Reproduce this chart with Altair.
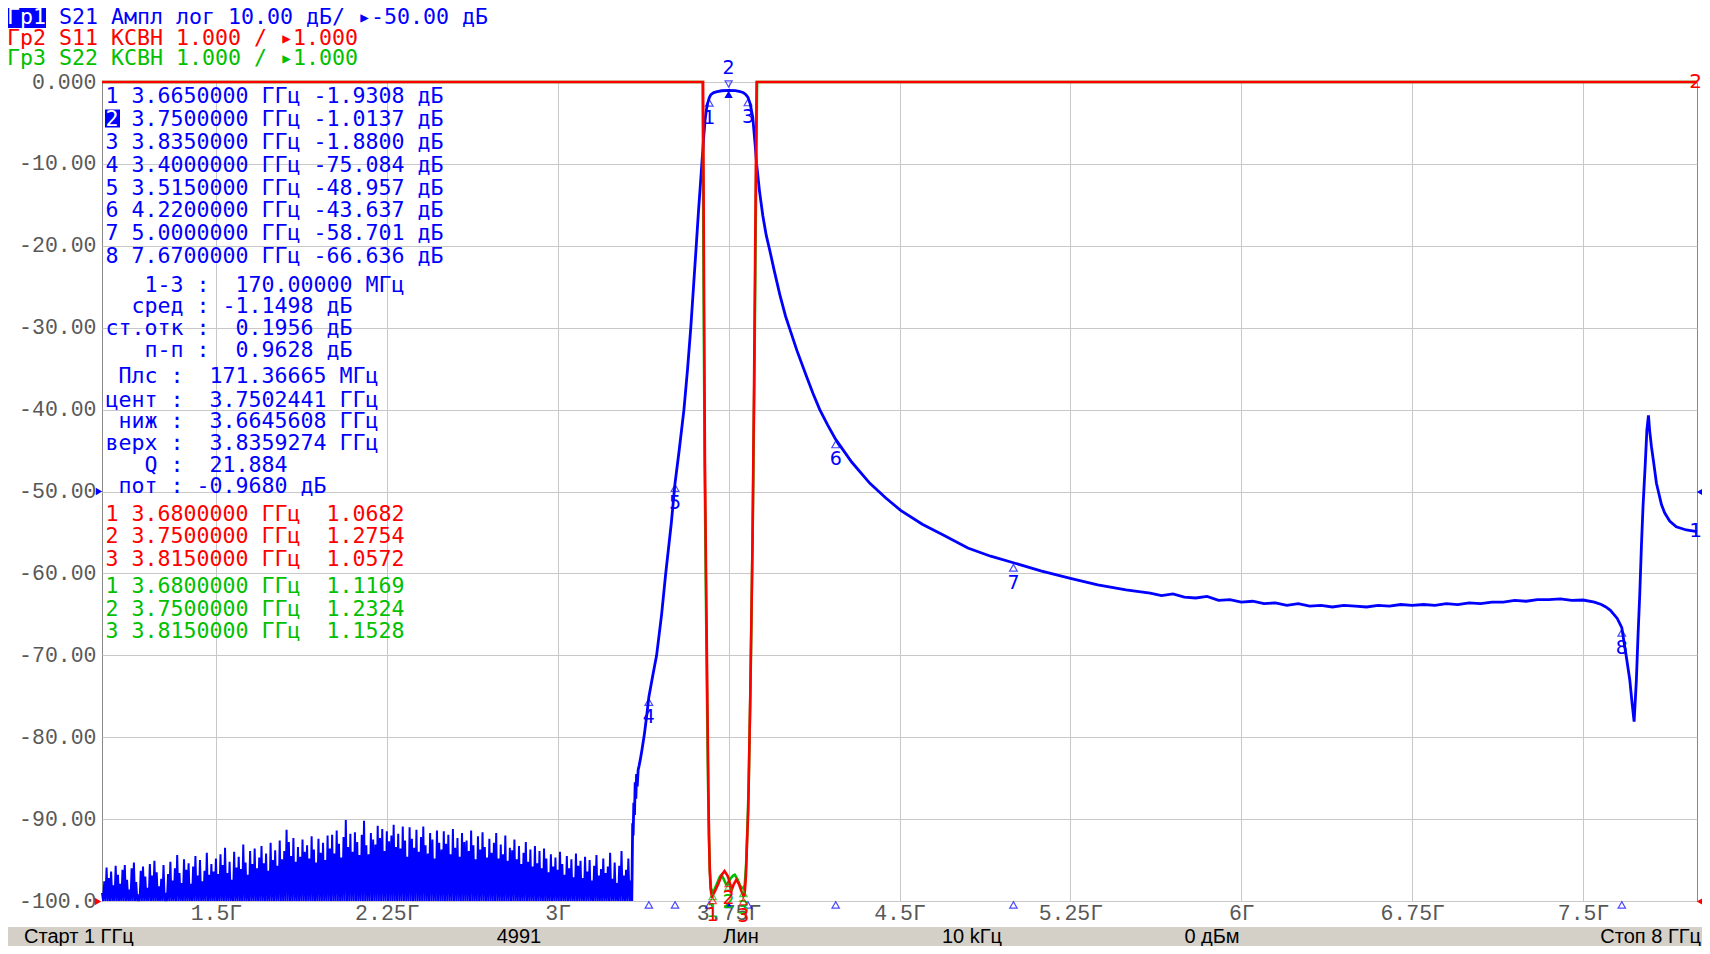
import altair as alt
import pandas as pd

# ---------------------------------------------------------------- data
F_START_GHZ = 1.0
F_STOP_GHZ = 8.0
DB_BOTTOM, DB_TOP = -100.0, 0.0
VSWR_BOTTOM, VSWR_TOP = 1.0, 11.0

X_TICKS_GHZ = [1.5, 2.25, 3.0, 3.75, 4.5, 5.25, 6.0, 6.75, 7.5]
Y_TICKS_DB = [0, -10, -20, -30, -40, -50, -60, -70, -80, -90, -100]

# S21 noise floor: spike peaks read every 10 MHz from 1.00 to 3.32 GHz
NOISE_START_GHZ = 1.0
NOISE_STEP_GHZ = 0.01
S21_NOISE_PEAKS_DB = [
    -99.0, -97.6, -95.9, -97.2, -96.4, -98.1, -95.7, -96.8, -97.9, -96.2,
    -95.6, -97.4, -98.6, -96.0, -95.3, -97.7, -99.2, -96.3, -95.8, -97.0,
    -98.4, -95.5, -96.9, -95.1, -96.5, -98.2, -97.3, -95.6, -99.0, -96.7,
    -95.2, -97.5, -96.0, -94.4, -96.6, -97.8, -94.9, -96.2, -95.4, -97.9,
    -95.8, -94.5, -96.9, -95.0, -97.6, -96.3, -94.1, -96.8, -95.5, -96.4,
    -94.8, -96.7, -94.3, -95.6, -93.5, -96.6, -95.2, -97.4, -94.0, -95.9,
    -94.6, -96.1, -93.1, -95.3, -96.8, -93.9, -95.5, -93.6, -96.0, -94.7,
    -93.3, -95.4, -94.2, -96.3, -92.9, -95.0, -93.8, -95.7, -92.6, -94.9,
    -93.9, -91.3, -92.8, -94.5, -92.3, -95.2, -93.4, -94.6, -92.5, -94.0,
    -93.2, -94.8, -92.1, -93.7, -95.3, -92.4, -94.1, -92.9, -95.0, -92.0,
    -93.6, -91.9, -94.2, -91.4, -93.0, -94.7, -92.2, -90.1, -93.4, -91.8,
    -94.0, -91.6, -92.8, -94.4, -91.9, -90.2, -93.2, -94.3, -91.7, -92.5,
    -93.1, -90.8, -92.3, -91.2, -93.9, -91.5, -92.7, -92.0, -90.7, -93.4,
    -91.8, -93.6, -90.9, -92.6, -94.6, -91.0, -92.4, -93.5, -91.3, -94.0,
    -92.2, -90.9, -93.2, -94.2, -91.7, -92.5, -94.8, -91.4, -92.9, -93.7,
    -91.5, -93.0, -91.9, -94.3, -91.2, -93.5, -92.3, -94.6, -91.7, -92.8,
    -92.6, -93.9, -91.4, -93.2, -94.9, -92.1, -93.7, -91.6, -93.4, -94.7,
    -92.4, -94.1, -92.9, -91.7, -94.8, -93.1, -94.3, -92.0, -95.1, -93.5,
    -93.8, -92.5, -94.9, -93.3, -95.5, -94.1, -92.8, -95.2, -93.7, -95.8,
    -93.3, -95.4, -93.9, -96.0, -93.6, -94.8, -96.5, -94.3, -95.8, -94.7,
    -96.2, -94.0, -95.5, -96.8, -94.5, -96.0, -94.9, -97.1, -94.2, -95.7,
    -95.1, -97.2, -94.6, -96.4, -95.0, -97.5, -95.7, -94.4, -96.9, -96.1,
    -94.8, -96.6, -95.8, -94.1, -97.3, -95.3, -97.8, -95.7, -93.9, -96.9,
    -96.2, -94.8, -97.5,
]
DISPLAY_FLOOR_DB = -100.0

# S21 skirts, passband and stopband
S21_FREQ_GHZ = [
    3.325, 3.327, 3.329, 3.331, 3.334, 3.337, 3.340, 3.343, 3.346, 3.349,
    3.353, 3.357, 3.362, 3.370, 3.381, 3.390, 3.400, 3.417, 3.434, 3.456,
    3.474, 3.498, 3.515, 3.533, 3.554, 3.570, 3.584, 3.596, 3.607, 3.618,
    3.628, 3.635, 3.641, 3.647, 3.653, 3.659, 3.665, 3.672, 3.685, 3.700,
    3.720, 3.750, 3.780, 3.800, 3.815, 3.826, 3.835, 3.845, 3.856, 3.866,
    3.873, 3.885, 3.900, 3.915, 3.931, 3.950, 3.975, 4.000, 4.019, 4.050,
    4.090, 4.120, 4.150, 4.185, 4.220, 4.290, 4.370, 4.440, 4.505, 4.600,
    4.692, 4.800, 4.900, 5.000, 5.120, 5.250, 5.370, 5.494,
    5.60, 5.65, 5.70, 5.75, 5.80, 5.85, 5.90, 5.95, 6.00, 6.05,
    6.10, 6.15, 6.20, 6.25, 6.30, 6.35, 6.40, 6.45, 6.50, 6.55,
    6.60, 6.65, 6.70, 6.75, 6.80, 6.85, 6.90, 6.95, 7.00, 7.05,
    7.10, 7.15, 7.20, 7.25, 7.30, 7.35, 7.40, 7.45, 7.50, 7.55,
    7.58, 7.60, 7.62, 7.65, 7.67, 7.69, 7.705, 7.715, 7.724, 7.734,
    7.741, 7.749, 7.756, 7.763, 7.773, 7.780, 7.787, 7.792, 7.800, 7.810,
    7.822, 7.844, 7.858, 7.880, 7.909, 7.953, 8.000,
]
S21_DB = [
    -100.0, -95.5, -90.5, -92.0, -88.0, -89.5, -85.5, -87.5, -84.5, -86.0,
    -84.0, -83.5, -82.8, -81.5, -79.5, -77.5, -75.084, -72.5, -70.0, -65.0,
    -60.0, -54.0, -48.957, -45.0, -40.0, -35.0, -30.0, -25.0, -20.4, -15.7,
    -11.8, -9.0, -6.6, -4.6, -3.3, -2.5, -1.9308, -1.55, -1.30, -1.18,
    -1.07, -1.0137, -1.06, -1.16, -1.30, -1.55, -1.88, -2.7, -4.3, -7.5,
    -10.0, -13.2, -16.3, -18.7, -20.6, -23.0, -26.0, -28.6, -30.2, -32.8,
    -35.8, -38.0, -40.0, -41.9, -43.637, -46.4, -49.0, -50.8, -52.3, -54.0,
    -55.3, -56.9, -57.9, -58.701, -59.7, -60.6, -61.4, -62.0,
    -62.4, -62.7, -62.5, -62.9, -63.0, -62.8, -63.3, -63.2, -63.5, -63.4,
    -63.7, -63.6, -63.9, -63.7, -64.0, -63.9, -64.1, -63.9, -64.0, -64.1,
    -63.9, -64.0, -63.8, -63.9, -63.8, -63.9, -63.7, -63.8, -63.6, -63.7,
    -63.5, -63.5, -63.3, -63.4, -63.2, -63.2, -63.1, -63.3, -63.25, -63.5,
    -63.8, -64.1, -64.5, -65.5, -66.636, -70.2, -73.0, -75.8, -78.1, -73.0,
    -67.7, -62.4, -56.7, -51.9, -46.6, -42.5, -40.7, -42.5, -44.5, -46.5,
    -49.0, -51.6, -52.6, -53.6, -54.3, -54.7, -54.9,
]

# S11 / S22 VSWR (values above the top of the display are shown at the top)
S11_FREQ_GHZ = [1.0, 3.636, 3.638, 3.642, 3.646, 3.652, 3.657, 3.661, 3.664, 3.667,
                3.671, 3.677, 3.680, 3.690, 3.705, 3.720, 3.732, 3.745, 3.750, 3.756,
                3.762, 3.772, 3.784, 3.795, 3.805, 3.815, 3.820, 3.826, 3.830, 3.836,
                3.845, 3.855, 3.862, 3.868, 3.873, 3.876, 8.0]
S11_VSWR = [40.0, 40.0, 11.5, 8.5, 6.4, 4.7, 3.4, 2.4, 1.8, 1.4,
            1.15, 1.04, 1.0682, 1.12, 1.21, 1.32, 1.365, 1.31, 1.2754, 1.20,
            1.12, 1.20, 1.26, 1.21, 1.13, 1.0572, 1.07, 1.30, 1.65, 2.1,
            3.5, 5.4, 7.4, 9.4, 11.5, 40.0, 40.0]
S22_FREQ_GHZ = [1.0, 3.633, 3.636, 3.640, 3.645, 3.651, 3.656, 3.660, 3.664, 3.668,
                3.673, 3.680, 3.688, 3.700, 3.712, 3.719, 3.728, 3.738, 3.745, 3.750,
                3.760, 3.770, 3.777, 3.788, 3.800, 3.808, 3.815, 3.821, 3.827, 3.832,
                3.838, 3.846, 3.856, 3.864, 3.870, 3.875, 3.879, 8.0]
S22_VSWR = [40.0, 40.0, 11.5, 8.6, 6.3, 4.6, 3.3, 2.4, 1.75, 1.35,
            1.15, 1.1169, 1.14, 1.22, 1.30, 1.32, 1.27, 1.21, 1.20, 1.2324,
            1.28, 1.31, 1.32, 1.27, 1.19, 1.16, 1.1528, 1.2, 1.45, 1.85,
            2.4, 3.6, 5.6, 7.6, 9.6, 11.5, 40.0, 40.0]

# markers
MARKER_IDS = ["1", "2", "3", "4", "5", "6", "7", "8"]
MARKER_FREQ_GHZ = [3.665, 3.75, 3.835, 3.40, 3.515, 4.22, 5.0, 7.67]
MARKER_S21_DB = [-1.9308, -1.0137, -1.8800, -75.084, -48.957, -43.637, -58.701, -66.636]
ACTIVE_MARKER = "2"
VSWR_MARKER_IDS = ["1", "2", "3"]
VSWR_MARKER_FREQ_GHZ = [3.68, 3.75, 3.815]
S11_MARKER_VSWR = [1.0682, 1.2754, 1.0572]
S22_MARKER_VSWR = [1.1169, 1.2324, 1.1528]

# texts
TRACE_TAGS = ["Гр1", "Гр2", "Гр3"]
HEADER_LINES = [
    "Гр1 S21 Ампл лог 10.00 дБ/ ▸-50.00 дБ",
    "Гр2 S11 КСВН 1.000 / ▸1.000",
    "Гр3 S22 КСВН 1.000 / ▸1.000",
]
S21_MARKER_LINES = [
    "1 3.6650000 ГГц -1.9308 дБ",
    "2 3.7500000 ГГц -1.0137 дБ",
    "3 3.8350000 ГГц -1.8800 дБ",
    "4 3.4000000 ГГц -75.084 дБ",
    "5 3.5150000 ГГц -48.957 дБ",
    "6 4.2200000 ГГц -43.637 дБ",
    "7 5.0000000 ГГц -58.701 дБ",
    "8 7.6700000 ГГц -66.636 дБ",
]
S21_STATS_LINES = [
    "   1-3 :  170.00000 МГц",
    "  сред : -1.1498 дБ",
    "ст.отк :  0.1956 дБ",
    "   п-п :  0.9628 дБ",
    " Плс :  171.36665 МГц",
    "цент :  3.7502441 ГГц",
    " ниж :  3.6645608 ГГц",
    "верх :  3.8359274 ГГц",
    "   Q :  21.884",
    " пот : -0.9680 дБ",
]
S11_MARKER_LINES = [
    "1 3.6800000 ГГц  1.0682",
    "2 3.7500000 ГГц  1.2754",
    "3 3.8150000 ГГц  1.0572",
]
S22_MARKER_LINES = [
    "1 3.6800000 ГГц  1.1169",
    "2 3.7500000 ГГц  1.2324",
    "3 3.8150000 ГГц  1.1528",
]
STATUS_ITEMS = ["Старт 1 ГГц", "4991", "Лин", "10 kГц", "0 дБм", "Стоп 8 ГГц"]

# ---------------------------------------------------------------- styling
BLUE, RED, GREEN = "#0000ff", "#ff0000", "#00c000"
GRID = "#c8c8c8"
LABEL_GRAY = "#585858"
MONO = "DejaVu Sans Mono"
MONO_SIZE = 21.6
PITCH = 0.602 * MONO_SIZE
W, H = 1595, 819
ONE = pd.DataFrame({"k": [0]})


X_F = alt.X("f:Q", scale=alt.Scale(domain=[F_START_GHZ, F_STOP_GHZ], nice=False, zero=False), axis=None)
Y_DB = alt.Y("db:Q", scale=alt.Scale(domain=[DB_BOTTOM, DB_TOP], nice=False, zero=False, clamp=True), axis=None)
Y_VSWR = alt.Y("vswr:Q", scale=alt.Scale(domain=[VSWR_BOTTOM, VSWR_TOP], nice=False, zero=False, clamp=True), axis=None)


def text_layer(rows, font=MONO, size=MONO_SIZE, align="left", baseline="alphabetic"):
    fixed = []
    for t, px, py, c in rows:
        lead = len(t) - len(t.lstrip(" "))
        fixed.append([t.lstrip(" ").replace(" ", "\u00a0"), px + lead * PITCH, py, c])
    df = pd.DataFrame(fixed, columns=["t", "px", "py", "c"])
    return alt.Chart(df).mark_text(font=font, fontSize=size, align=align, baseline=baseline).encode(
        x=alt.X("px:Q", scale=None, axis=None),
        y=alt.Y("py:Q", scale=None, axis=None),
        text=alt.Text("t:N"),
        color=alt.Color("c:N", scale=None, legend=None),
    )


def box(x1, x2, y1, y2, color):
    return alt.Chart(ONE).mark_rect(color=color).encode(
        x=alt.value(x1), x2=alt.value(x2), y=alt.value(y1), y2=alt.value(y2))


# ---------------------------------------------------------------- tables
noise_f, noise_db = [], []
for k, pk in enumerate(S21_NOISE_PEAKS_DB):
    f0 = NOISE_START_GHZ + k * NOISE_STEP_GHZ
    noise_f += [f0, f0 + NOISE_STEP_GHZ / 2]
    noise_db += [pk, DISPLAY_FLOOR_DB]
df_noise = pd.DataFrame({"f": noise_f, "db": noise_db, "i": range(len(noise_f))})
df_s21 = pd.DataFrame({"f": S21_FREQ_GHZ, "db": S21_DB, "i": range(len(S21_DB))})
df_s11 = pd.DataFrame({"f": S11_FREQ_GHZ, "vswr": S11_VSWR, "i": range(len(S11_VSWR))})
df_s22 = pd.DataFrame({"f": S22_FREQ_GHZ, "vswr": S22_VSWR, "i": range(len(S22_VSWR))})
df_mk = pd.DataFrame({"id": MARKER_IDS, "f": MARKER_FREQ_GHZ, "db": MARKER_S21_DB})
df_mk_in = df_mk[df_mk.id != ACTIVE_MARKER]
df_mk_act = df_mk[df_mk.id == ACTIVE_MARKER]
df_m11 = pd.DataFrame({"id": VSWR_MARKER_IDS, "f": VSWR_MARKER_FREQ_GHZ, "vswr": S11_MARKER_VSWR})
df_m22 = pd.DataFrame({"id": VSWR_MARKER_IDS, "f": VSWR_MARKER_FREQ_GHZ, "vswr": S22_MARKER_VSWR})

# ---------------------------------------------------------------- layers
status_bar = box(-102, 1610, 845, 872, "#d4d0c8")

y_label_expr = ("datum.value == 0 ? '0.000' : (datum.value <= -100 ? '-100.0' : "
                "'-' + format(-datum.value, '.2f'))")
axis_font = dict(labelFont="Liberation Mono", labelFontSize=21.5, labelColor=LABEL_GRAY,
                 ticks=False, tickSize=0, domain=False, grid=True, gridColor=GRID,
                 gridWidth=1, title=None, labelOverlap=False, labelFlush=False)

noise = alt.Chart(df_noise).mark_line(color=BLUE, strokeWidth=2.0).encode(
    x=alt.X("f:Q", scale=alt.Scale(domain=[F_START_GHZ, F_STOP_GHZ], nice=False, zero=False),
            axis=alt.Axis(values=X_TICKS_GHZ, labelExpr="datum.value + 'Г'",
                          labelBaseline="alphabetic", labelPadding=18, **axis_font)),
    y=alt.Y("db:Q", scale=alt.Scale(domain=[DB_BOTTOM, DB_TOP], nice=False, zero=False, clamp=True),
            axis=alt.Axis(values=Y_TICKS_DB, labelExpr=y_label_expr, labelPadding=6, **axis_font)),
    order="i:Q",
)
s21 = alt.Chart(df_s21).mark_line(color=BLUE, strokeWidth=2.8).encode(x=X_F, y=Y_DB, order="i:Q")
s22 = alt.Chart(df_s22).mark_line(color=GREEN, strokeWidth=2.6).encode(x=X_F, y=Y_VSWR, order="i:Q")
s11 = alt.Chart(df_s11).mark_line(color=RED, strokeWidth=2.6).encode(x=X_F, y=Y_VSWR, order="i:Q")

mk_tri = alt.Chart(df_mk_in).mark_point(shape="triangle-up", size=60, filled=False, color=BLUE,
                                        strokeWidth=1.2, yOffset=5).encode(x=X_F, y=Y_DB)
mk_tri_act = alt.Chart(df_mk_act).mark_point(shape="triangle-up", size=70, filled=True, color=BLUE,
                                             opacity=1, yOffset=4).encode(x=X_F, y=Y_DB)
mk_lbl = alt.Chart(df_mk_in).mark_text(font="DejaVu Sans", fontSize=19, color=BLUE, baseline="middle",
                                       yOffset=20).encode(x=X_F, y=Y_DB, text="id:N")
mk_act_top = alt.Chart(df_mk_act).mark_point(shape="triangle-down", size=50, filled=False, color=BLUE,
                                             strokeWidth=1.2).encode(x=X_F, y=alt.value(2))
mk_act_lbl = alt.Chart(df_mk_act).mark_text(font="DejaVu Sans", fontSize=19, color=BLUE,
                                            baseline="middle").encode(x=X_F, y=alt.value(-14.5), text="id:N")
mk_bottom = alt.Chart(df_mk_in).mark_point(shape="triangle-up", size=55, filled=False, color=BLUE,
                                           strokeWidth=1.2).encode(x=X_F, y=alt.value(823))
mk_bottom_act = alt.Chart(df_mk_act).mark_point(shape="triangle-up", size=60, filled=True, color=BLUE,
                                                opacity=1).encode(x=X_F, y=alt.value(823))

m22_tri = alt.Chart(df_m22).mark_point(shape="triangle-up", size=55, filled=False, color=GREEN,
                                       strokeWidth=1.2, yOffset=5).encode(x=X_F, y=Y_VSWR)
m22_lbl = alt.Chart(df_m22).mark_text(font="DejaVu Sans", fontSize=19, color=GREEN, baseline="middle",
                                      yOffset=20).encode(x=X_F, y=Y_VSWR, text="id:N")
m11_tri = alt.Chart(df_m11).mark_point(shape="triangle-up", size=55, filled=False, color=RED,
                                       strokeWidth=1.2, yOffset=5).encode(x=X_F, y=Y_VSWR)
m11_lbl = alt.Chart(df_m11).mark_text(font="DejaVu Sans", fontSize=19, color=RED, baseline="middle",
                                      yOffset=20).encode(x=X_F, y=Y_VSWR, text="id:N")


def ref_tri(shape, px, py, color):
    return alt.Chart(ONE).mark_point(shape=shape, size=55, filled=True, color=color, opacity=1).encode(
        x=alt.value(px), y=alt.value(py))


ref_marks = [
    ref_tri("triangle-right", -3, 409.5, BLUE),
    ref_tri("triangle-right", -4, 819.5, RED),
    ref_tri("triangle-left", 1598, 410, BLUE),
    ref_tri("triangle-left", 1598, 819.5, RED),
]
edge_tags = text_layer([["2", 1593.5, 0, RED], ["1", 1593.5, 448.5, BLUE]],
                       font="DejaVu Sans", size=20, align="center", baseline="middle")

# header (page x 7 -> plot x -95); kept just inside the drawable page area
HDR_X = -95
hdr_y = [-57.6, -37.2, -16.6]
hdr_colors = [BLUE, RED, GREEN]
hdr_rows = []
for j, line in enumerate(HEADER_LINES):
    if j == 0:
        tag = TRACE_TAGS[0]
        hdr_rows.append([line[len(tag):], HDR_X + len(tag) * PITCH, hdr_y[j], hdr_colors[j]])
    else:
        hdr_rows.append([line, HDR_X, hdr_y[j], hdr_colors[j]])
header = text_layer(hdr_rows)
hdr_box = box(-96, -56, -74, -54, BLUE)
hdr_tag = text_layer([[TRACE_TAGS[0], HDR_X, hdr_y[0], "#ffffff"]])

# marker readouts
LIST_X = 3.5
rows = []
for j, line in enumerate(S21_MARKER_LINES):
    rows.append([line, LIST_X, 21.3 + 22.8 * j, BLUE])
stats_y = [209.7, 231.3, 253.0, 274.7, 301.3, 324.7, 346.3, 368.0, 389.7, 411.3]
for j, line in enumerate(S21_STATS_LINES):
    rows.append([line, LIST_X, stats_y[j], BLUE])
for j, line in enumerate(S11_MARKER_LINES):
    rows.append([line, LIST_X, 438.7 + 22.7 * j, RED])
for j, line in enumerate(S22_MARKER_LINES):
    rows.append([line, LIST_X, 511.3 + 22.5 * j, GREEN])
readout = text_layer(rows)
act_box = box(3, 18, 27.5, 45.5, BLUE)
act_txt = text_layer([[ACTIVE_MARKER, LIST_X, 21.3 + 22.8, "#ffffff"]])

# status bar texts
status_pos = [(-78, "left"), (417, "center"), (639, "center"), (870, "center"), (1110, "center"), (1599, "right")]
status_layers = []
for txt, (px, al) in zip(STATUS_ITEMS, status_pos):
    status_layers.append(text_layer([[txt, px, 854.5, "#000000"]], font="Liberation Sans", size=20,
                                    align=al, baseline="middle"))

chart = alt.layer(
    status_bar,
    noise, s21, s22, s11,
    mk_tri, mk_tri_act, mk_lbl, mk_act_top, mk_act_lbl, mk_bottom, mk_bottom_act,
    m22_tri, m22_lbl, m11_tri, m11_lbl,
    *ref_marks, edge_tags,
    header, hdr_box, hdr_tag,
    readout, act_box, act_txt,
    *status_layers,
).resolve_scale(
    x="independent", y="independent", color="independent"
).properties(
    width=W, height=H,
    autosize=alt.AutoSizeParams(type="none"),
    padding={"left": 94, "top": 74, "right": 5, "bottom": 45},
    background="#ffffff",
).configure_view(stroke="#8a8a8a", strokeWidth=1)

chart.save("out.html", embed_options={"renderer": "svg", "actions": False})
